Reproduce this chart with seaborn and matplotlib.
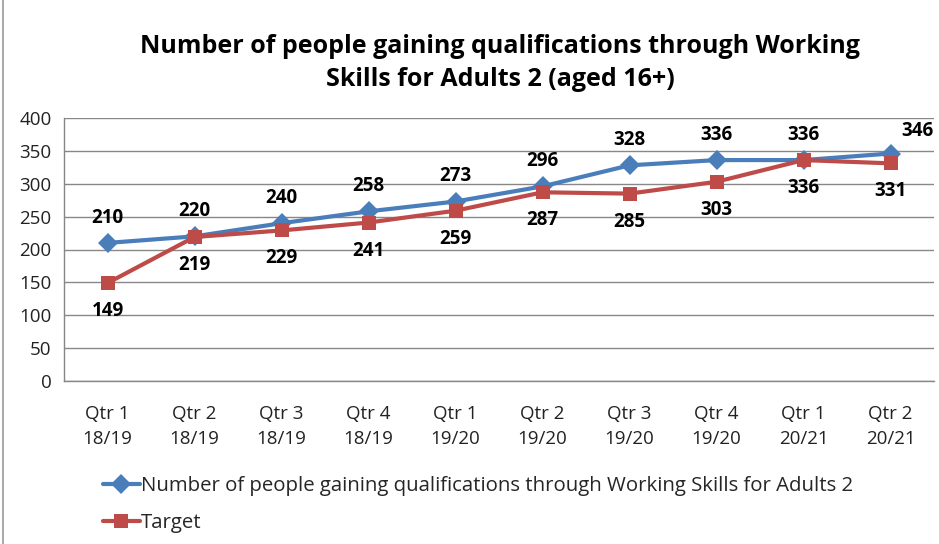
import matplotlib
matplotlib.use("Agg")
import matplotlib.pyplot as plt
import seaborn as sns
import pandas as pd
import numpy as np
from matplotlib.lines import Line2D
from matplotlib.patches import Rectangle

categories = ["Qtr 1\n18/19", "Qtr 2\n18/19", "Qtr 3\n18/19", "Qtr 4\n18/19", "Qtr 1\n19/20",
              "Qtr 2\n19/20", "Qtr 3\n19/20", "Qtr 4\n19/20", "Qtr 1\n20/21", "Qtr 2\n20/21"]
actual = [210, 220, 240, 258, 273, 296, 328, 336, 336, 346]
target = [149, 219, 229, 241, 259, 287, 285, 303, 336, 331]
series_names = ["Number of people gaining qualifications through Working Skills for Adults 2", "Target"]
title = "Number of people gaining qualifications through Working\nSkills for Adults 2 (aged 16+)"
yticks = [0, 50, 100, 150, 200, 250, 300, 350, 400]

blue = "#4A7EBB"
red = "#BE4B48"

sns.set_theme(style="white")
plt.rcParams["font.family"] = ["Open Sans", "DejaVu Sans"]

df = pd.DataFrame({
    "x": list(range(len(categories))) * 2,
    "value": actual + target,
    "series": [series_names[0]] * len(actual) + [series_names[1]] * len(target),
})

fig = plt.figure(figsize=(9.39, 5.44), dpi=100)
ax = fig.add_axes([64/939, 1-381/544, 870/939, 263/544])

sns.lineplot(data=df, x="x", y="value", hue="series", style="series",
             palette=[blue, red], markers=["D", "s"], dashes=False,
             linewidth=3, markersize=10, markeredgewidth=0, ax=ax, legend=False)

ax.set_xlim(-0.5, len(categories) - 0.5)
ax.set_ylim(0, 400)
ax.set_yticks(yticks)
ax.set_yticklabels([str(v) for v in yticks], fontsize=13.5, color="#222222")
ax.set_xticks(range(len(categories)))
ax.set_xticklabels(categories, fontsize=13.5, color="#222222", linespacing=1.5)
ax.set_xticks(np.arange(-0.5, len(categories), 1), minor=True)
ax.tick_params(axis="x", which="major", length=0, pad=17)
ax.tick_params(axis="x", which="minor", length=6, color="#868686", width=1, direction="out")
ax.tick_params(axis="y", length=6, color="#868686", width=1, direction="out", pad=3)
ax.set_xlabel("")
ax.set_ylabel("")
ax.grid(axis="y", color="#888888", linewidth=1)
ax.set_axisbelow(True)
for s in ["top", "right"]:
    ax.spines[s].set_visible(False)
for s in ["left", "bottom"]:
    ax.spines[s].set_color("#868686")
    ax.spines[s].set_linewidth(1)

lab_kw = dict(fontsize=13.5, fontweight="bold", color="black", ha="center")
for i, v in enumerate(actual):
    if i == len(actual) - 1:
        ax.annotate(str(v), (i, v), xytext=(8, 9), textcoords="offset points", ha="left", va="bottom",
                    fontsize=13.5, fontweight="bold", color="black")
    else:
        ax.annotate(str(v), (i, v), xytext=(0, 11), textcoords="offset points", va="bottom", **lab_kw)
for i, v in enumerate(target):
    ax.annotate(str(v), (i, v), xytext=(0, -13), textcoords="offset points", va="top", **lab_kw)

fig.text(500/939, 1-63/544, title, fontsize=18, fontweight="bold", color="black",
         ha="center", va="center", linespacing=1.45)

handles = [Line2D([], [], color=blue, marker="D", lw=3, markersize=10, markeredgewidth=0),
           Line2D([], [], color=red, marker="s", lw=3, markersize=10, markeredgewidth=0)]
fig.legend(handles, series_names, loc="upper left", bbox_to_anchor=(103/939, 1-476/544),
           frameon=False, fontsize=14.7, handlelength=1.8, handletextpad=0.05,
           labelspacing=0.85, borderaxespad=0, borderpad=0)

fig.patches.append(Rectangle((3/939, -0.01), 1.0, 1.02, transform=fig.transFigure,
                             fill=False, edgecolor="#9a9a9a", linewidth=1.2))

fig.savefig("out.png", dpi=100)
